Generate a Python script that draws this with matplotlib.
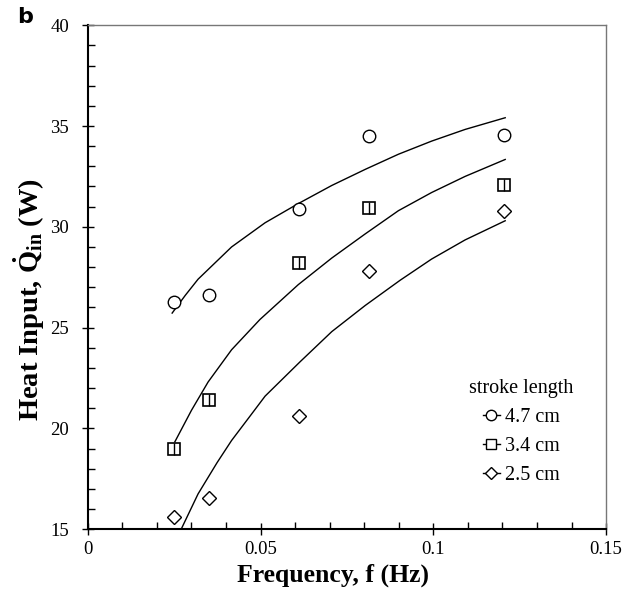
import numpy as np
import matplotlib as mpl
import matplotlib.pyplot as plt

mpl.rcParams['font.family'] = ['Liberation Serif', 'DejaVu Serif']
mpl.rcParams['mathtext.fontset'] = 'custom'
mpl.rcParams['mathtext.rm'] = 'Liberation Serif'
mpl.rcParams['mathtext.bf'] = 'Liberation Serif:bold'

# measured points (frequency in Hz, heat input in W)
freq = [0.025, 0.035, 0.061, 0.0815, 0.1205]
q_47 = [26.25, 26.6, 30.9, 34.5, 34.55]
q_34 = [19.0, 21.4, 28.2, 30.95, 32.05]
q_25 = [15.6, 16.55, 20.6, 27.8, 30.8]

# fitted curves
fit47_f = [0.0244, 0.0282, 0.0319, 0.0416, 0.0513, 0.0609, 0.0706, 0.0803, 0.0899, 0.0995, 0.1092, 0.1208]
fit47_q = [25.72, 26.6, 27.4, 29.0, 30.2, 31.15, 32.05, 32.85, 33.6, 34.25, 34.83, 35.41]
fit34_f = [0.0252, 0.0300, 0.0348, 0.0416, 0.0498, 0.0609, 0.0706, 0.0803, 0.0899, 0.0995, 0.1092, 0.1208]
fit34_q = [19.34, 20.9, 22.3, 23.9, 25.4, 27.13, 28.45, 29.65, 30.8, 31.7, 32.5, 33.34]
fit25_f = [0.0271, 0.0319, 0.0374, 0.0416, 0.0469, 0.0513, 0.0614, 0.0706, 0.0803, 0.0904, 0.0995, 0.1092, 0.1208]
fit25_q = [15.03, 16.75, 18.3, 19.4, 20.6, 21.6, 23.3, 24.8, 26.1, 27.35, 28.4, 29.35, 30.3]

labels = ['4.7 cm', '3.4 cm', '2.5 cm']

fig = plt.figure(figsize=(6.32, 6.0), dpi=100)
ax = fig.add_axes([0.139, 0.118, 0.820, 0.840])

# fit lines
ax.plot(fit47_f, fit47_q, color='black', lw=1.0)
ax.plot(fit34_f, fit34_q, color='black', lw=1.0)
ax.plot(fit25_f, fit25_q, color='black', lw=1.0)

# data markers
ax.plot(freq, q_47, 'o', ms=9, mfc='white', mec='black', mew=1.0)
ax.plot(freq, q_34, 's', ms=8, mfc='white', mec='black', mew=1.2)
ax.plot(freq, q_34, '|', ms=8, mec='black', mew=1.0)
ax.plot(freq, q_25, 'D', ms=7, mfc='white', mec='black', mew=1.0)

# legend handles: short line with marker
h1, = ax.plot([], [], '-o', color='black', lw=1.0, ms=7.5, mfc='white', mew=1.0)
h2, = ax.plot([], [], '-s', color='black', lw=1.0, ms=7.5, mfc='white', mew=1.0)
h3, = ax.plot([], [], '-D', color='black', lw=1.0, ms=6, mfc='white', mew=1.0)
leg = ax.legend([h1, h2, h3], labels, title='stroke length', frameon=False,
                loc='center', bbox_to_anchor=(0.836, 0.193), fontsize=14.5,
                title_fontsize=14.5, handlelength=0.85, handletextpad=0.25,
                labelspacing=0.5, borderpad=0.2)

ax.set_xlim(0, 0.15)
ax.set_ylim(15, 40)
ax.set_xticks([0, 0.05, 0.1, 0.15])
ax.set_xticklabels(['0', '0.05', '0.1', '0.15'])
ax.set_yticks([15, 20, 25, 30, 35, 40])
ax.set_xticks(np.arange(0, 0.151, 0.01), minor=True)
ax.set_yticks(np.arange(15, 40.1, 1), minor=True)
ax.tick_params(which='major', direction='inout', length=9, width=1.0,
               labelsize=13.5, top=False, right=False)
ax.tick_params(which='minor', direction='in', length=5, width=1.0,
               top=False, right=False)
ax.tick_params(axis='x', which='major', pad=4)
ax.tick_params(axis='y', which='major', pad=9)

for side in ['left', 'bottom']:
    ax.spines[side].set_linewidth(1.5)
    ax.spines[side].set_color('black')
for side in ['top', 'right']:
    ax.spines[side].set_linewidth(1.0)
    ax.spines[side].set_color('#777777')

ax.set_xlabel('Frequency, f (Hz)', fontsize=18.5, fontweight='bold')
ax.set_ylabel(r'Heat Input, $\mathbf{\dot{Q}_{in}}$ (W)', fontsize=20.5,
              fontweight='bold')
ax.xaxis.set_label_coords(0.473, -0.069)
ax.yaxis.set_label_coords(-0.078, 0.456)

fig.text(0.027, 0.972, 'b', fontsize=16, fontweight='bold',
         family='DejaVu Sans', va='center', ha='left')

fig.savefig('out.png', dpi=100)
